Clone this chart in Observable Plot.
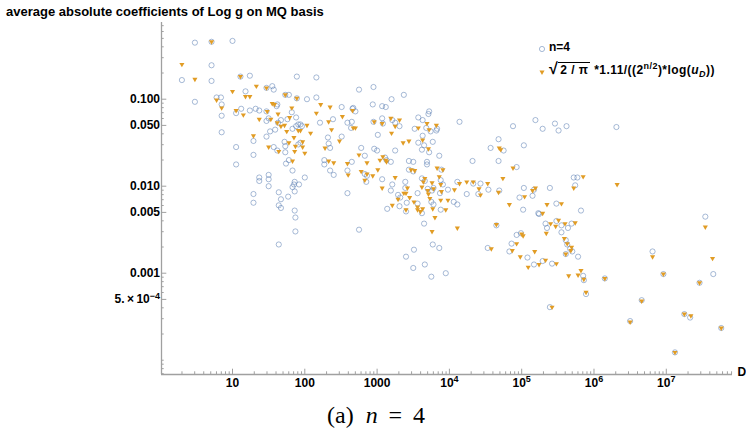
<!DOCTYPE html>
<html><head><meta charset="utf-8">
<script src="https://cdn.jsdelivr.net/npm/d3@7"></script>
<script src="https://cdn.jsdelivr.net/npm/@observablehq/plot@0.6"></script>
<style>
body{margin:0;background:#fff;}
#wrap{position:relative;width:746px;height:433px;overflow:hidden;font-family:"Liberation Sans",Arial,sans-serif;color:#000;}
#title{position:absolute;left:6px;top:4px;font-weight:bold;font-size:13px;line-height:16px;white-space:nowrap;}
#chart{position:absolute;left:0;top:20px;}
.lg{position:absolute;font-weight:bold;font-size:12px;line-height:14px;white-space:nowrap;}
.lg sup{font-size:9px;vertical-align:0;position:relative;top:-5px;}
.lg sub{font-size:9px;vertical-align:0;position:relative;top:3px;}
.f{letter-spacing:0.45px;}
.ov{border-top:1.3px solid #000;padding:0 2px;}
.rad{font-size:16px;}
.mk{position:absolute;}
#caption{position:absolute;left:3px;width:746px;text-align:center;top:403px;font-family:"Liberation Serif","DejaVu Serif",serif;font-size:24px;line-height:24px;white-space:nowrap;}
</style></head>
<body><div id="wrap">
<div id="title">average absolute coefficients of Log g on MQ basis</div>
<div id="chart"></div>
<svg class="mk" style="left:536px;top:43px" width="12" height="12"><circle cx="6" cy="6" r="2.6" fill="none" stroke="#5E81B5" stroke-opacity="0.55"/></svg>
<div class="lg" style="left:549px;top:40px">n=4</div>
<svg class="mk" style="left:536px;top:66px" width="12" height="12"><path d="M6,9 L3.45,4.5 L8.55,4.5 Z" fill="#E19C24"/></svg>
<div class="lg f" style="left:549px;top:62px"><span class="rad">√</span><span class="ov">2 / π</span> *1.11/((2<sup>n/2</sup>)*log(<i>u</i><sub><i>D</i></sub>))</div>
<div id="caption">(a)&nbsp; <i>n</i>&nbsp;&thinsp;=&thinsp;&nbsp;4</div>
</div>
<script>
// log10 of D and log10 of value
const circleLogD = [0.48,1.00,0.71,0.30,0.71,1.24,1.89,2.16,1.18,1.55,1.57,0.48,0.78,0.84,0.85,0.85,0.85,1.05,1.12,1.24,1.32,1.37,1.47,1.61,1.62,1.50,1.47,1.63,1.67,1.76,1.78,2.03,2.16,1.82,1.88,1.91,1.94,1.88,1.96,1.83,1.59,1.52,1.47,1.29,1.72,1.91,1.94,2.21,2.39,2.51,2.59,2.64,2.66,2.32,2.33,2.51,1.05,1.57,1.73,2.35,1.29,1.05,1.62,1.73,1.74,1.78,1.83,2.27,2.27,2.65,2.35,2.40,2.59,2.59,1.37,1.37,1.50,1.50,1.50,1.86,1.85,1.92,2.00,1.83,1.86,1.29,1.29,1.64,1.77,1.67,1.64,1.67,1.86,1.87,1.87,1.64,2.95,2.75,3.37,3.20,2.94,3.07,3.12,2.67,2.70,3.72,3.71,3.57,3.63,3.07,3.08,2.95,2.65,3.21,3.25,3.31,3.52,3.68,3.74,3.82,3.83,4.14,4.88,5.19,3.01,3.63,3.77,3.57,3.65,2.78,2.96,3.00,3.25,3.62,3.72,4.68,4.57,4.75,5.03,2.83,3.11,3.13,3.19,3.44,3.50,3.69,3.69,3.86,4.32,4.68,4.93,3.89,3.50,3.44,2.83,2.86,3.07,3.62,2.85,3.21,3.39,3.66,3.88,3.91,3.78,3.76,3.19,3.39,3.56,3.70,3.87,3.98,3.29,3.32,4.11,4.24,4.33,4.43,4.40,4.54,4.69,5.03,5.17,5.15,4.97,3.41,3.31,3.14,3.56,3.75,3.78,4.06,4.11,3.40,3.62,3.88,5.02,5.23,3.65,2.75,4.65,4.93,4.99,4.86,3.77,3.86,4.53,4.83,3.51,3.40,5.08,5.17,3.66,3.50,3.95,3.75,5.46,5.29,5.51,5.62,6.31,5.72,5.77,5.74,5.39,5.48,5.82,5.24,5.33,5.48,5.55,5.64,5.69,5.35,7.54,5.55,5.61,5.63,5.67,5.70,5.78,5.29,5.42,5.61,5.85,5.86,5.89,5.39,6.81,7.65,7.33,6.66,6.50,7.12,6.15,6.96,7.25,7.76,7.46,0.71,1.11,1.47,1.73,1.89];
const circleLogV = [-0.35,-0.33,-0.61,-0.78,-0.79,-0.73,-0.74,-0.75,-0.91,-0.85,-0.89,-1.03,-0.98,-0.98,-1.06,-1.19,-1.38,-1.16,-1.11,-1.13,-1.11,-1.13,-1.14,-1.08,-1.06,-1.22,-1.25,-1.27,-1.24,-1.23,-0.95,-1.00,-0.98,-1.15,-1.21,-1.29,-1.29,-1.31,-1.31,-1.34,-1.35,-1.37,-1.43,-1.48,-1.49,-1.52,-1.50,-1.27,-1.23,-1.09,-1.27,-1.33,-1.11,-1.44,-1.51,-1.43,-1.55,-1.55,-1.54,-1.56,-1.64,-1.75,-1.59,-1.61,-1.74,-1.70,-1.82,-1.70,-1.75,-1.72,-1.82,-1.87,-1.82,-2.08,-1.90,-1.94,-1.87,-1.92,-2.00,-1.95,-1.98,-1.98,-1.90,-2.01,-2.06,-2.09,-2.19,-2.07,-2.12,-2.15,-2.22,-2.25,-2.28,-2.36,-2.52,-2.67,-0.86,-0.89,-0.95,-1.00,-1.06,-1.08,-1.09,-1.10,-1.14,-1.14,-1.17,-1.21,-1.24,-1.22,-1.28,-1.26,-1.26,-1.24,-1.27,-1.31,-1.34,-1.33,-1.37,-1.36,-1.34,-1.26,-1.31,-1.24,-1.41,-1.42,-1.49,-1.50,-1.53,-1.56,-1.57,-1.59,-1.59,-1.58,-1.61,-1.46,-1.56,-1.59,-1.53,-1.65,-1.67,-1.70,-1.72,-1.71,-1.72,-1.72,-1.75,-1.65,-1.71,-1.71,-1.78,-1.81,-1.83,-1.81,-1.86,-1.88,-1.92,-1.91,-1.95,-1.98,-1.95,-1.94,-1.93,-1.98,-2.02,-2.05,-2.05,-2.02,-2.08,-2.03,-2.08,-2.04,-2.10,-2.13,-1.95,-2.09,-1.97,-1.97,-2.09,-2.04,-2.05,-2.02,-2.04,-2.11,-2.13,-2.19,-2.23,-2.26,-2.20,-2.18,-2.21,-2.18,-2.21,-2.29,-2.31,-2.27,-2.27,-2.31,-2.43,-2.50,-2.45,-2.56,-2.54,-2.66,-2.67,-2.71,-2.71,-2.75,-2.73,-2.81,-2.82,-2.90,-2.90,-2.94,-3.00,-3.04,-1.28,-1.34,-1.36,-1.31,-1.32,-1.90,-1.90,-1.99,-2.02,-2.20,-2.28,-2.32,-2.43,-2.40,-2.45,-2.48,-2.43,-2.48,-2.35,-2.53,-2.62,-2.67,-2.72,-2.75,-2.81,-2.86,-2.89,-2.78,-3.03,-3.08,-3.24,-3.39,-2.75,-3.01,-3.51,-3.31,-3.55,-3.91,-3.06,-3.01,-3.47,-3.63,-3.11,-0.34,-0.74,-0.87,-0.95,-0.99];
const triLogD = [0.71,0.30,0.48,1.11,1.00,1.33,1.47,1.73,1.89,1.18,1.24,0.78,0.85,1.05,1.15,1.37,1.48,1.53,1.55,1.58,1.82,1.63,1.62,1.67,1.72,1.79,1.75,1.91,1.94,2.03,2.08,2.16,2.22,2.35,2.33,2.37,2.52,2.66,2.67,1.29,1.85,1.78,1.97,1.87,1.50,1.97,2.48,1.64,1.86,2.00,1.83,2.28,2.33,2.40,2.59,2.60,2.96,3.07,3.19,3.31,3.25,2.70,3.69,3.82,3.57,3.72,3.20,3.63,3.44,3.36,3.71,4.69,4.71,2.75,3.08,3.04,3.12,3.13,2.86,3.47,3.52,3.83,3.91,3.01,2.78,4.88,2.86,2.94,3.25,3.86,3.66,4.74,2.83,3.64,3.76,3.88,4.14,4.24,4.33,4.53,3.07,3.42,3.62,3.70,3.78,3.89,3.37,3.40,3.71,4.07,4.41,4.43,4.68,5.15,5.19,5.04,3.29,3.45,3.51,3.73,3.88,3.98,3.21,3.56,3.56,3.40,3.63,3.60,3.77,3.95,4.83,3.80,4.11,3.76,4.65,5.00,5.02,4.93,4.58,4.87,5.18,4.98,5.24,5.09,5.85,6.32,5.72,5.55,5.35,5.29,5.51,5.40,5.60,5.74,5.47,7.54,5.34,5.59,5.63,5.69,5.68,5.61,5.33,5.48,5.82,5.78,5.65,5.86,6.15,5.89,5.42,6.81,6.96,7.64,7.46,6.66,7.25,7.34,6.50,7.76,7.12];
const triLogV = [-0.34,-0.60,-0.77,-0.74,-0.91,-0.85,-0.87,-0.95,-0.99,-0.97,-0.97,-1.01,-1.10,-1.13,-1.18,-1.23,-1.14,-1.23,-1.05,-1.06,-1.10,-1.17,-1.27,-1.31,-1.30,-1.21,-1.37,-1.36,-1.36,-1.30,-1.39,-1.16,-1.06,-1.09,-1.26,-1.35,-1.20,-1.13,-1.33,-1.42,-1.44,-1.50,-1.49,-1.54,-1.55,-1.55,-1.48,-1.60,-1.60,-1.62,-1.71,-1.56,-1.71,-1.73,-1.74,-1.87,-1.26,-1.28,-1.22,-1.24,-1.31,-1.33,-1.28,-1.30,-1.33,-1.35,-1.39,-1.47,-1.48,-1.50,-1.57,-1.56,-1.58,-1.64,-1.66,-1.70,-1.70,-1.72,-1.73,-1.81,-1.82,-1.79,-1.81,-1.81,-1.83,-1.79,-1.86,-1.88,-1.90,-1.89,-1.91,-1.91,-1.93,-1.95,-1.96,-1.98,-1.97,-1.95,-1.95,-1.97,-2.02,-2.02,-2.01,-2.05,-2.03,-2.06,-2.08,-2.08,-2.09,-2.04,-2.03,-2.10,-2.07,-2.05,-2.02,-2.12,-2.15,-2.13,-2.18,-2.14,-2.16,-2.16,-2.22,-2.24,-2.27,-2.27,-2.26,-2.29,-2.26,-2.27,-2.21,-2.36,-2.48,-2.52,-2.44,-2.55,-2.57,-2.66,-2.72,-2.74,-2.75,-2.81,-2.90,-2.93,-1.89,-1.98,-2.02,-2.20,-2.21,-2.31,-2.39,-2.43,-2.43,-2.42,-2.46,-2.47,-2.54,-2.60,-2.66,-2.70,-2.74,-2.78,-2.85,-2.89,-2.97,-3.02,-3.03,-3.07,-3.06,-3.22,-3.39,-2.81,-3.01,-2.83,-3.11,-3.32,-3.47,-3.49,-3.56,-3.63,-3.91];

const xMajor = [10, 100, 1000, 1e4, 1e5, 1e6, 1e7];
const xLabels = ["10", "100", "1000", "10^4", "10^5", "10^6", "10^7"];
const yMajor = [0.1, 0.05, 0.01, 0.005, 0.001, 0.0005];
const yLabels = ["0.100", "0.050", "0.010", "0.005", "0.001", "5.\u2009×\u200910^\u22124"];
const xDomain = [1.042, 8.24e7];
const yDomain = [6.85e-5, 0.7614];

const circles = circleLogD.map((d, i) => ({D: 10 ** d, v: 10 ** circleLogV[i]}));
const tris = triLogD.map((d, i) => ({D: 10 ** d, v: 10 ** triLogV[i]}));

const near = (a, b) => Math.abs(a - b) / b < 1e-6;
const xMinor = [], yMinor = [];
for (let m = 0; m <= 8; m++) for (let k = 1; k <= 9; k++) {
  const v = k * 10 ** m;
  if (v > xDomain[0] && v < xDomain[1] && !xMajor.some(t => near(v, t))) xMinor.push(v);
}
for (let m = -5; m <= -1; m++) for (let k = 1; k <= 9; k++) {
  const v = k * 10 ** m;
  if (v > yDomain[0] && v < yDomain[1] && !yMajor.some(t => near(v, t))) yMinor.push(v);
}

const W = 746, H = 380, mt = 2, mb = 26, ml = 161, mr = 14;
const plotH = H - mt - mb, plotW = W - ml - mr;
const axisGray = "#a0a0a0";

const triDown = {
  draw(context, size) {
    const s3 = Math.sqrt(3);
    const y = -Math.sqrt(size / (s3 * 3));
    context.moveTo(0, -y * 2);
    context.lineTo(-s3 * y, y);
    context.lineTo(s3 * y, y);
    context.closePath();
  }
};

const chart = Plot.plot({
  width: W, height: H,
  marginTop: mt, marginBottom: mb, marginLeft: ml, marginRight: mr,
  style: {fontFamily: "'Liberation Sans', Arial, sans-serif", background: "transparent", overflow: "visible"},
  x: {type: "log", domain: xDomain, axis: null},
  y: {type: "log", domain: yDomain, axis: null},
  marks: [
    Plot.ruleX(xMinor, {x: d => d, insetTop: plotH - 2.7, stroke: axisGray, strokeWidth: 1}),
    Plot.ruleX(xMajor, {x: d => d, insetTop: plotH - 5.3, stroke: axisGray, strokeWidth: 1}),
    Plot.ruleY(yMinor, {y: d => d, insetRight: plotW - 2.7, stroke: axisGray, strokeWidth: 1}),
    Plot.ruleY(yMajor, {y: d => d, insetRight: plotW - 5.3, stroke: axisGray, strokeWidth: 1}),
    Plot.ruleY([yDomain[0]], {stroke: axisGray, strokeWidth: 1.3}),
    Plot.ruleX([xDomain[0]], {stroke: axisGray, strokeWidth: 1.3}),
    Plot.dot(circles, {x: "D", y: "v", r: 2.6, fill: "none", stroke: "#5E81B5", strokeOpacity: 0.55, strokeWidth: 1}),
    Plot.dot(tris, {x: "D", y: "v", r: 1.9, symbol: triDown, fill: "#E19C24", stroke: "none"}),
    Plot.text(yMajor, {y: d => d, text: yLabels, frameAnchor: "left", textAnchor: "end", dx: -1.5, fontWeight: "bold", fontSize: 12, fill: "#000"}),
    Plot.text(xMajor, {x: d => d, text: xLabels, frameAnchor: "bottom", dy: 12, fontWeight: "bold", fontSize: 12, fill: "#000"}),
    Plot.text(["D"], {text: d => d, frameAnchor: "bottom-right", textAnchor: "start", dx: 5, dy: 1, fontWeight: "bold", fontSize: 12, fill: "#000"})
  ]
});

d3.select(chart).selectAll("text").each(function () {
  const t = this.textContent;
  if (t.includes("^")) {
    const [b, e] = t.split("^");
    const s = d3.select(this);
    s.text(null);
    s.append("tspan").text(b);
    s.append("tspan").attr("dy", "-0.45em").attr("font-size", "0.75em").text(e);
  }
});

document.getElementById("chart").appendChild(chart);
</script>
</body></html>
